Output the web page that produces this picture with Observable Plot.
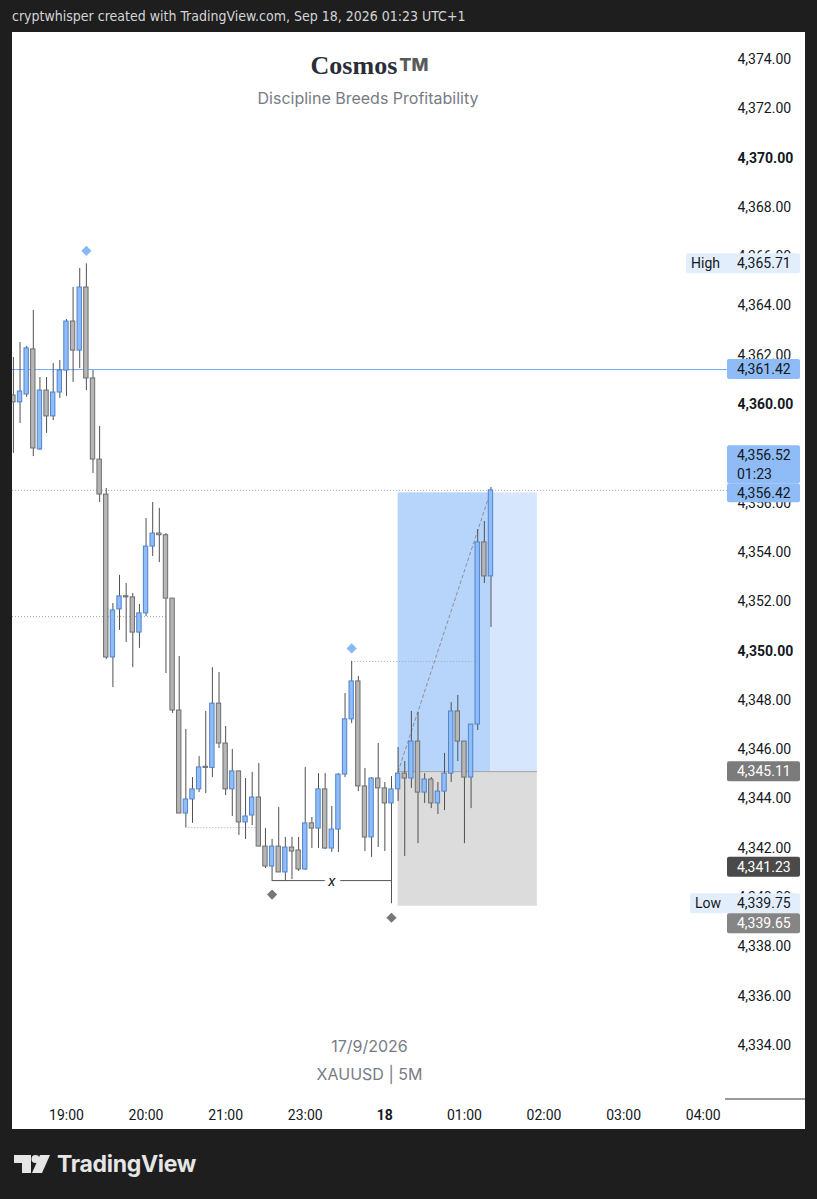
<!DOCTYPE html>
<html>
<head>
<meta charset="utf-8">
<script src="https://cdn.jsdelivr.net/npm/d3@7"></script>
<script src="https://cdn.jsdelivr.net/npm/@observablehq/plot@0.6"></script>
<style>
  html, body { margin: 0; padding: 0; background: #1e1e1e; width: 817px; height: 1199px; overflow: hidden; }
  #hdr { position: absolute; left: 12px; top: 8px; color: #d4d4d4; font-size: 14px; font-family: "Liberation Sans Narrow", "DejaVu Sans Condensed", Roboto, sans-serif; white-space: nowrap; }
  #panel { position: absolute; left: 12px; top: 32px; width: 793px; height: 1097px; background: #fff; overflow: hidden; }
  #panel svg { position: absolute; left: 0; top: 0; }
  .ov { position: absolute; white-space: nowrap; text-align: center; }
  #title { left: 0; width: 715px; top: 19px; font-family: "Liberation Serif", "DejaVu Serif", serif; font-weight: bold; font-size: 26px; color: #2a2e39; }
  #title span { font-family: Inter, Roboto, sans-serif; font-size: 18px; font-weight: 800; color: #5a5a5a; margin-left: 2px; vertical-align: 3px; }
  #subtitle { left: 0; width: 712px; top: 56px; font-family: Inter, Roboto, sans-serif; font-size: 16px; color: #787b86; }
  #wm1 { left: 0; width: 715px; top: 1004px; font-family: Inter, Roboto, sans-serif; font-size: 16px; color: #787b86; }
  #wm2 { left: 0; width: 715px; top: 1032px; font-family: Inter, Roboto, sans-serif; font-size: 16px; color: #787b86; }
  #logo { position: absolute; left: 14px; top: 1150px; display: flex; align-items: center; }
  #logo .t { font-family: Inter, Roboto, sans-serif; font-weight: 700; font-size: 23px; color: #e6e6e6; margin-left: 7px; letter-spacing: -0.3px; }
</style>
</head>
<body>
<div id="hdr">cryptwhisper created with TradingView.com, Sep 18, 2026 01:23 UTC+1</div>
<div id="panel">
  <div class="ov" id="title">Cosmos<span>TM</span></div>
  <div class="ov" id="subtitle">Discipline Breeds Profitability</div>
  <div class="ov" id="wm1">17/9/2026</div>
  <div class="ov" id="wm2">XAUUSD | 5M</div>
</div>
<div id="logo">
  <svg width="36" height="22" viewBox="0 0 36 22">
    <path d="M0,2 H17 V20 H8 V10 H0 Z" fill="#e6e6e6"/>
    <circle cx="21.5" cy="6" r="4" fill="#e6e6e6"/>
    <path d="M26,2 H36 L28,20 H18 Z" fill="#e6e6e6"/>
  </svg>
  <span class="t">TradingView</span>
</div>
<script>
// ---- 5-minute bars, XAUUSD, 17/9/2026 18:20 -> 18/9/2026 01:20 (UTC+1) ----
const times = [
  "18:20","18:25","18:30","18:35","18:40","18:45","18:50","18:55",
  "19:00","19:05","19:10","19:15","19:20","19:25","19:30","19:35","19:40","19:45","19:50","19:55",
  "20:00","20:05","20:10","20:15","20:20","20:25","20:30","20:35","20:40","20:45","20:50","20:55",
  "21:00","21:05","21:10","21:15","21:20","21:25","21:30","21:35","21:40","21:45","21:50","21:55",
  "23:00","23:05","23:10","23:15","23:20","23:25","23:30","23:35","23:40","23:45","23:50","23:55",
  "00:00","00:05","00:10","00:15","00:20","00:25","00:30","00:35","00:40","00:45","00:50","00:55",
  "01:00","01:05","01:10","01:15","01:20"
];
const open = [
  4360.37,4360.09,4360.41,4362.24,4358.18,4360.57,4359.52,4360.49,
  4361.38,4363.37,4362.19,4364.75,4361.06,4357.77,4356.35,4349.74,4351.69,4352.22,4352.18,4350.75,
  4351.53,4354.24,4354.77,4354.70,4352.13,4347.59,4343.41,4343.98,4344.39,4345.28,4345.26,4347.87,
  4346.25,4344.39,4345.12,4343.05,4343.33,4344.06,4342.07,4341.26,4342.07,4341.02,4342.03,4341.91,
  4341.14,4343.01,4342.80,4344.39,4341.99,4342.76,4344.99,4347.23,4348.77,4344.51,4342.44,4344.83,
  4344.43,4343.82,4344.39,4345.03,4344.83,4346.33,4344.26,4344.79,4343.82,4344.30,4345.03,4347.55,
  4346.33,4344.87,4347.02,4354.41,4353.03
];
const high = [
  4361.91,4362.52,4362.36,4363.82,4361.10,4361.10,4361.67,4361.79,
  4363.45,4364.75,4365.52,4365.71,4361.38,4359.11,4356.60,4351.93,4353.07,4352.74,4352.34,4351.89,
  4355.38,4356.03,4355.79,4354.77,4352.13,4349.78,4346.82,4344.87,4345.72,4347.55,4349.33,4349.13,
  4346.94,4346.01,4345.12,4344.83,4345.08,4345.44,4342.80,4342.36,4343.66,4342.44,4342.44,4342.44,
  4345.28,4343.25,4345.03,4345.03,4343.70,4345.03,4348.28,4349.58,4348.97,4345.24,4344.87,4346.25,
  4344.67,4344.91,4346.09,4345.52,4347.55,4347.51,4345.03,4344.87,4344.67,4345.85,4347.91,4348.20,
  4346.33,4347.02,4354.93,4355.26,4356.64
];
const low = [
  4358.02,4359.23,4360.29,4357.89,4358.14,4358.83,4359.35,4360.25,
  4360.33,4360.90,4361.46,4360.57,4357.20,4356.03,4349.66,4348.52,4350.84,4350.35,4349.33,4350.11,
  4351.40,4353.84,4353.59,4349.09,4347.47,4343.41,4342.84,4343.01,4344.26,4344.22,4344.87,4346.05,
  4344.14,4343.29,4342.52,4342.36,4342.92,4342.07,4341.18,4340.69,4341.02,4340.69,4340.73,4341.06,
  4341.10,4341.99,4341.99,4341.95,4341.83,4341.83,4344.87,4347.06,4344.30,4341.87,4341.63,4342.03,
  4341.87,4339.75,4343.90,4341.67,4344.43,4342.19,4343.82,4343.61,4343.37,4343.53,4344.67,4345.52,
  4342.19,4343.61,4346.78,4352.74,4350.96
];
const close = [
  4360.09,4360.53,4362.28,4358.22,4360.57,4359.52,4360.49,4361.38,
  4363.37,4362.19,4364.75,4361.06,4357.77,4356.35,4349.74,4351.65,4352.22,4352.18,4350.75,4351.53,
  4354.24,4354.77,4354.70,4352.13,4347.59,4343.41,4343.98,4344.39,4345.28,4345.26,4347.87,4346.25,
  4344.39,4345.12,4343.05,4343.29,4344.06,4342.07,4341.26,4342.07,4341.02,4342.03,4341.87,4341.14,
  4343.01,4342.80,4344.39,4341.99,4342.76,4344.99,4347.23,4348.77,4344.51,4342.44,4344.83,4344.43,
  4343.82,4344.39,4345.03,4344.83,4346.33,4344.26,4344.79,4343.82,4344.30,4345.03,4347.55,4346.33,
  4344.87,4347.02,4354.41,4353.03,4356.52
];

// time axis labels (hourly; 22:00 session break skipped)
const timeTickLabels = ["19:00","20:00","21:00","23:00","18","01:00","02:00","03:00","04:00"];
const timeTickBold = ["18"];
// price axis
const priceTicks = [4374,4372,4370,4368,4366,4364,4362,4360,4358,4356,4354,4352,4350,4348,4346,4344,4342,4340,4338,4336,4334];
const priceTicksBold = [4370,4360,4350];

// drawings
const pivotHighs = ["19:15","23:35"];          // blue diamonds above the bar
const pivotLows = ["21:35","00:05"];           // grey diamonds below the bar
const dottedLevels = [4351.40, 4342.84, 4349.58];
const dottedFrom = [null, "20:30", "23:35"];
const dottedTo = ["20:15", "21:25", "01:10"];
const horizontalLine = 4361.42;
const bracketLevel = 4340.69, bracketFrom = "21:35", bracketTo = "00:05", bracketLabel = "x";
const posEntry = 4345.11, posTarget = 4356.42, posStop = 4339.65, posStart = "00:10", posBarsRight = 7;
const darkLevel = 4341.23;
const rangeHigh = 4365.71, rangeLow = 4339.75;
const countdown = "01:23";

// ---- build ----
const slotOf = t => times.indexOf(t);
const bars = times.map((t, i) => ({t, slot: i, o: open[i], h: high[i], l: low[i], c: close[i], up: close[i] >= open[i] && !(Math.abs(close[i]-open[i]) < 0.05)}));
const lastBar = bars[bars.length - 1];
const perHour = 12;
const firstTickSlot = slotOf("19:00");
const tickSlot = timeTickLabels.map((lab, j) => firstTickSlot + perHour * j);
const fmt = d3.format(",.2f");

const W = 793, H = 1097, MR = 78, MB = 31;
const UP_FILL = "#90bdf7", UP_STROKE = "#4f84cf", DN_FILL = "#b6b6b6", DN_STROKE = "#6e6e6e", WICK = "#505050";

const minBody = 0.045;
const bodies = bars.map(d => {
  const top = Math.max(d.o, d.c), bot = Math.min(d.o, d.c);
  return {...d, y1: bot, y2: Math.max(top, bot + minBody)};
});

const posStartSlot = slotOf(posStart), posEndSlot = lastBar.slot + posBarsRight;
const posData = [
  {x1: posStartSlot, x2: lastBar.slot, y1: posEntry, y2: posTarget, fill: "#b7d5fb"},
  {x1: lastBar.slot, x2: posEndSlot, y1: posEntry, y2: posTarget, fill: "#d6e7fd"},
  {x1: posStartSlot, x2: posEndSlot, y1: posStop, y2: posEntry, fill: "#dcdcdc"}
];
const dotted = dottedLevels.map((v, i) => ({v, x1: dottedFrom[i] ? slotOf(dottedFrom[i]) : -1, x2: slotOf(dottedTo[i])}));
const pivH = pivotHighs.map(t => bars[slotOf(t)]);
const pivL = pivotLows.map(t => bars[slotOf(t)]);
const diag = [{x: posStartSlot, y: posEntry}, {x: lastBar.slot, y: lastBar.c}];

const x0 = -0.136, x1 = 107.66;
const chart = Plot.plot({
  width: W, height: H,
  marginLeft: 0, marginRight: MR, marginTop: 0, marginBottom: MB,
  style: {background: "transparent", fontFamily: "Roboto, sans-serif", fontSize: "14px", color: "#131722", overflow: "visible"},
  x: {domain: [x0, x1], axis: null},
  y: {domain: [4331.85, 4375.095], axis: null},
  marks: [
    Plot.rect(posData, {x1: "x1", x2: "x2", y1: "y1", y2: "y2", fill: d => d.fill}),
    Plot.ruleY([posEntry], {x1: posStartSlot, x2: posEndSlot, stroke: "#a3a3a3", strokeWidth: 1}),
    Plot.ruleY([horizontalLine], {stroke: "#6fa8f5", strokeWidth: 1}),
    Plot.ruleY([lastBar.c], {stroke: "#b0b0b0", strokeDasharray: "1,2", strokeWidth: 1}),
    Plot.ruleY(dotted, {y: "v", x1: d => d.x1 < 0 ? x0 : d.x1, x2: "x2", stroke: "#a8a8a8", strokeDasharray: "1,2"}),
    Plot.line(diag, {x: "x", y: "y", stroke: "#8a8f9c", strokeDasharray: "3,3", strokeWidth: 1}),
    Plot.ruleY([bracketLevel], {x1: slotOf(bracketFrom), x2: slotOf(bracketTo), stroke: "#555", strokeWidth: 1}),
    Plot.text([bracketLabel], {x: (slotOf(bracketFrom) + slotOf(bracketTo)) / 2, y: bracketLevel, text: d => d, fontStyle: "italic", fontSize: 15, fill: "#131722", stroke: "white", strokeWidth: 10, dy: 1}),
    Plot.ruleX(bars, {x: "slot", y1: "l", y2: "h", stroke: WICK, strokeWidth: 1}),
    Plot.rect(bodies, {x1: d => d.slot - 0.33, x2: d => d.slot + 0.33, y1: "y1", y2: "y2", fill: d => d.up ? UP_FILL : DN_FILL, stroke: d => d.up ? UP_STROKE : DN_STROKE, strokeWidth: 1}),
    Plot.dot(pivH, {x: "slot", y: "h", symbol: "diamond2", r: 4.6, fill: "#8ab8f5", dy: -13}),
    Plot.dot(pivL, {x: "slot", y: "l", symbol: "diamond2", r: 4.6, fill: "#777", dy: 14}),
    Plot.axisY(priceTicks.filter(v => !priceTicksBold.includes(v)), {anchor: "right", tickSize: 0, tickPadding: 10, tickFormat: fmt, fontSize: 14, fill: "#131722", textAnchor: "start"}),
    Plot.axisY(priceTicksBold, {anchor: "right", tickSize: 0, tickPadding: 10, tickFormat: fmt, fontSize: 14, fontWeight: "bold", fill: "#131722", textAnchor: "start"}),
    Plot.axisX(tickSlot.filter((s, j) => !timeTickBold.includes(timeTickLabels[j])), {anchor: "bottom", tickSize: 0, tickPadding: 12, tickFormat: s => timeTickLabels[tickSlot.indexOf(s)], fontSize: 14, fill: "#131722"}),
    Plot.axisX(tickSlot.filter((s, j) => timeTickBold.includes(timeTickLabels[j])), {anchor: "bottom", tickSize: 0, tickPadding: 12, tickFormat: s => timeTickLabels[tickSlot.indexOf(s)], fontSize: 14, fontWeight: "bold", fill: "#131722"})
  ]
});
document.getElementById("panel").prepend(chart);

// ---- price-scale badges (positioned with the plot's y scale) ----
const ys = chart.scale("y");
const svg = d3.select(chart);
const fr = W - MR;          // right edge of frame
const g = svg.append("g").attr("font-family", "Roboto, sans-serif").attr("font-size", 14).attr("text-anchor", "start");
g.append("line").attr("x1", fr - 2).attr("x2", W).attr("y1", H - MB + 1).attr("y2", H - MB + 1).attr("stroke", "#9a9a9a").attr("stroke-width", 2);
function badge(yTop, h, left, bg, fg, lines, tag) {
  g.append("rect").attr("x", left).attr("y", yTop).attr("width", fr + 73 - left).attr("height", h).attr("rx", 2).attr("fill", bg);
  const lh = h / lines.length;
  lines.forEach((s, k) => g.append("text").attr("x", fr + 10).attr("y", yTop + lh * k + lh / 2).attr("dy", "0.36em").attr("text-anchor", "start").attr("fill", fg).text(s));
  if (tag) g.append("text").attr("x", left + 5).attr("y", yTop + h / 2).attr("dy", "0.36em").attr("text-anchor", "start").attr("fill", fg).text(tag);
}
const yc = v => ys.apply(v);
badge(yc(rangeHigh) - 10, 20, fr - 41, "#e3eefd", "#131722", [fmt(rangeHigh)], "High");
badge(yc(horizontalLine) - 10, 20, fr, "#8fbcf7", "#131722", [fmt(horizontalLine)]);
badge(yc(posTarget) - 9 - 38, 38, fr, "#8fbcf7", "#131722", [fmt(lastBar.c), countdown]);
badge(yc(posTarget) - 9, 19, fr, "#8fbcf7", "#131722", [fmt(posTarget)]);
badge(yc(posEntry) - 10, 20, fr, "#7b7b7b", "#ffffff", [fmt(posEntry)]);
badge(yc(darkLevel) - 10, 20, fr, "#4a4a4a", "#ffffff", [fmt(darkLevel)]);
badge(yc(rangeLow) - 10, 20, fr - 37, "#e3eefd", "#131722", [fmt(rangeLow)], "Low");
badge(yc(rangeLow) + 10, 20, fr, "#858585", "#ffffff", [fmt(posStop)]);
</script>
</body>
</html>
